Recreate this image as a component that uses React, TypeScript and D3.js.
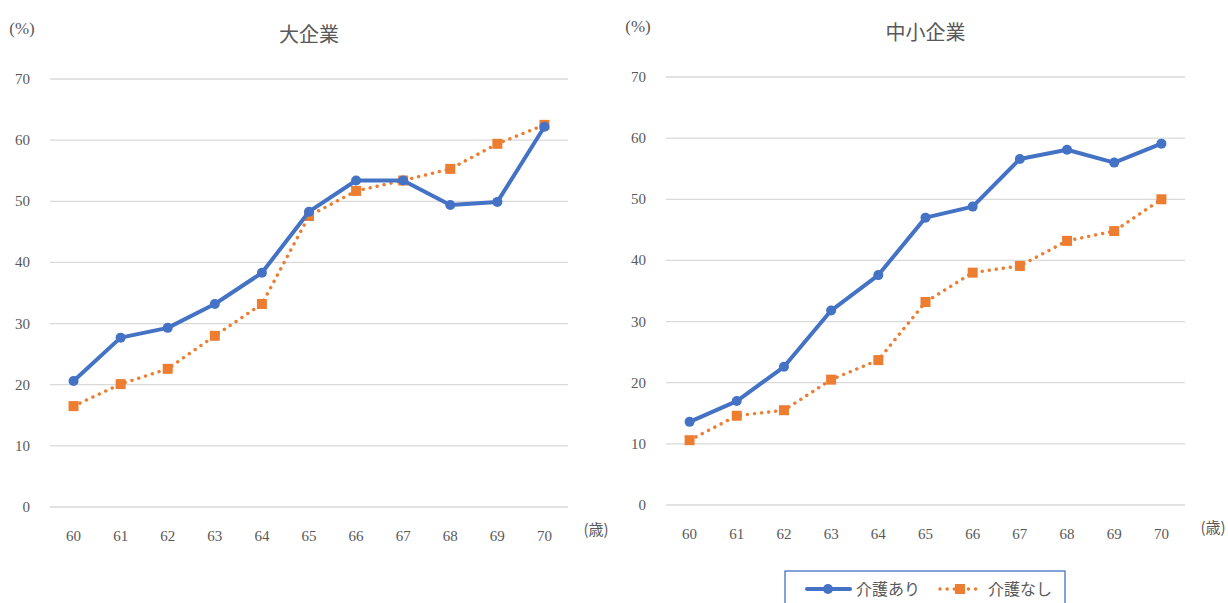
import React from "react";
import * as d3 from "d3";

const ages = ["60", "61", "62", "63", "64", "65", "66", "67", "68", "69", "70"];
const yTicks = [0, 10, 20, 30, 40, 50, 60, 70];
const seriesNames = ["介護あり", "介護なし"];

const largeWithCare = [20.6, 27.7, 29.3, 33.2, 38.3, 48.3, 53.4, 53.4, 49.4, 49.9, 62.2];
const largeWithoutCare = [16.5, 20.1, 22.6, 28.0, 33.2, 47.6, 51.7, 53.4, 55.3, 59.4, 62.5];
const smeWithCare = [13.6, 17.0, 22.6, 31.8, 37.6, 47.0, 48.8, 56.6, 58.1, 56.0, 59.1];
const smeWithoutCare = [10.6, 14.6, 15.5, 20.5, 23.7, 33.2, 38.0, 39.1, 43.2, 44.8, 50.0];

const BLUE = "#4472C4";
const ORANGE = "#ED7D31";
const TEXT = "#595959";
const GRID = "#D9D9D9";
const NUM_FONT = "'Liberation Serif', 'DejaVu Serif', serif";
const JP_FONT = "'Noto Sans CJK JP', sans-serif";

type PanelProps = {
  title: string;
  x0: number;
  x1: number;
  yTop: number;
  yBottom: number;
  withCare: number[];
  withoutCare: number[];
};

function Panel({ title, x0, x1, yTop, yBottom, withCare, withoutCare }: PanelProps) {
  const x = d3.scaleBand<string>().domain(ages).range([x0, x1]).padding(0);
  const y = d3.scaleLinear().domain([0, 70]).range([yBottom, yTop]);
  const cx = (a: string) => (x(a) as number) + x.bandwidth() / 2;
  const line = d3
    .line<number>()
    .x((_, i) => cx(ages[i]))
    .y((d) => y(d));
  return (
    <g>
      <text
        x={(x0 + x1) / 2}
        y={yTop - 37}
        textAnchor="middle"
        fontFamily={JP_FONT}
        fontSize={20}
        fill={TEXT}
      >
        {title}
      </text>
      <text x={x0 - 28} y={yTop - 45} textAnchor="middle" fontFamily={NUM_FONT} fontSize={17} fill={TEXT}>
        (%)
      </text>
      {yTicks.map((t) => (
        <g key={t}>
          <line x1={x0} x2={x1} y1={y(t)} y2={y(t)} stroke={GRID} strokeWidth={1.3} />
          <text
            x={x0 - 20}
            y={y(t) + 5}
            textAnchor="end"
            fontFamily={NUM_FONT}
            fontSize={15}
            fill={TEXT}
          >
            {t}
          </text>
        </g>
      ))}
      {ages.map((a) => (
        <text
          key={a}
          x={cx(a)}
          y={yBottom + 34}
          textAnchor="middle"
          fontFamily={NUM_FONT}
          fontSize={15}
          fill={TEXT}
        >
          {a}
        </text>
      ))}
      <text x={x1 + 28} y={yBottom + 28} textAnchor="middle" fontFamily={JP_FONT} fontSize={15} fill={TEXT}>
        (歳)
      </text>
      <path
        d={line(withoutCare) || ""}
        fill="none"
        stroke={ORANGE}
        strokeWidth={3.4}
        strokeDasharray="0.1 7"
        strokeLinecap="round"
      />
      {withoutCare.map((v, i) => (
        <rect key={i} x={cx(ages[i]) - 5} y={y(v) - 5} width={10} height={10} fill={ORANGE} />
      ))}
      <path d={line(withCare) || ""} fill="none" stroke={BLUE} strokeWidth={4} strokeLinejoin="round" />
      {withCare.map((v, i) => (
        <circle key={i} cx={cx(ages[i])} cy={y(v)} r={5} fill={BLUE} />
      ))}
    </g>
  );
}

export default function App() {
  return (
    <svg
      width={1228}
      height={603}
      style={{ position: "absolute", left: 0, top: 0, background: "#fff" }}
    >
      <rect width={1228} height={603} fill="#fff" />
      <Panel
        title="大企業"
        x0={50}
        x1={568}
        yTop={79}
        yBottom={507}
        withCare={largeWithCare}
        withoutCare={largeWithoutCare}
      />
      <Panel
        title="中小企業"
        x0={666}
        x1={1185}
        yTop={77}
        yBottom={505}
        withCare={smeWithCare}
        withoutCare={smeWithoutCare}
      />
      <g>
        <rect x={785} y={571} width={280} height={40} fill="#fff" stroke={BLUE} strokeWidth={1.3} />
        <line x1={807} x2={850} y1={589} y2={589} stroke={BLUE} strokeWidth={4} strokeLinecap="round" />
        <circle cx={828} cy={589} r={5} fill={BLUE} />
        <text x={856} y={595} fontFamily={JP_FONT} fontSize={16} fill={TEXT}>
          {seriesNames[0]}
        </text>
        <line
          x1={940}
          x2={982}
          y1={589}
          y2={589}
          stroke={ORANGE}
          strokeWidth={3.4}
          strokeDasharray="0.1 7"
          strokeLinecap="round"
        />
        <rect x={955} y={584} width={10} height={10} fill={ORANGE} />
        <text x={988} y={595} fontFamily={JP_FONT} fontSize={16} fill={TEXT}>
          {seriesNames[1]}
        </text>
      </g>
    </svg>
  );
}
